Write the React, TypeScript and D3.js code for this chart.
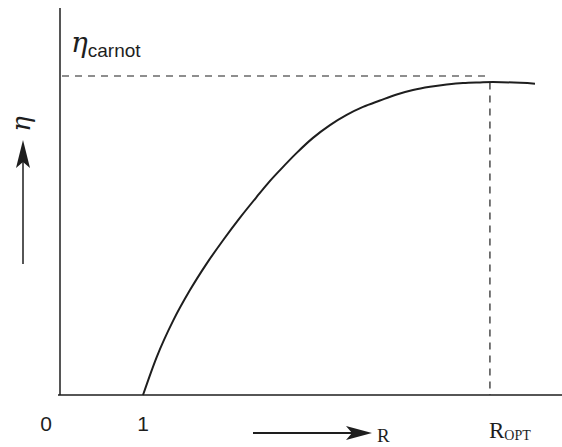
import React from "react";
import * as d3 from "d3";

// curve: R (ratio) vs efficiency as fraction of carnot
const rValues = [1, 1.165, 1.365, 1.566, 1.767, 1.967, 2.169, 2.37, 2.51, 2.651, 2.852, 3.048, 3.253, 3.454, 3.651, 3.855, 4.057, 4.253, 4.458, 4.659, 4.855, 5.06, 5.217, 5.723];
const etaValues = [0, 0.119, 0.234, 0.329, 0.412, 0.486, 0.556, 0.621, 0.665, 0.705, 0.759, 0.806, 0.846, 0.878, 0.903, 0.923, 0.942, 0.956, 0.966, 0.973, 0.978, 0.98, 0.981, 0.976];
const xTicks = [0, 1];
const etaCarnot = 1;
const rOpt = 5.18;

const W = 562;
const H = 447;

const App = () => {
  const x = d3.scaleLinear().domain([0, 1]).range([60, 143]);
  const y = d3.scaleLinear().domain([0, 1]).range([395, 76]);

  const pts = rValues.map((r, i) => [r, etaValues[i]] as [number, number]);
  const curve = d3
    .line<[number, number]>()
    .x((d) => x(d[0]))
    .y((d) => y(d[1]))
    .curve(d3.curveMonotoneX);

  const ink = "#1e1e1e";

  return (
    <svg
      width={W}
      height={H}
      style={{ position: "absolute", left: 0, top: 0, background: "#fff" }}
    >
      {/* axes */}
      <line x1={x(0)} y1={8} x2={x(0)} y2={y(0)} stroke={ink} strokeWidth={1.5} />
      <line x1={x(0) - 2} y1={y(0)} x2={W} y2={y(0)} stroke={ink} strokeWidth={1.5} />

      {/* carnot level and optimum */}
      <line
        x1={x(0) + 2}
        y1={y(etaCarnot)}
        x2={x(rOpt)}
        y2={y(etaCarnot)}
        stroke={ink}
        strokeWidth={1.2}
        strokeDasharray="7,6"
      />
      <line
        x1={x(rOpt)}
        y1={y(0.98)}
        x2={x(rOpt)}
        y2={y(0)}
        stroke={ink}
        strokeWidth={1.2}
        strokeDasharray="7,6"
      />

      <path d={curve(pts) || ""} fill="none" stroke={ink} strokeWidth={2} />

      {/* tick labels */}
      {xTicks.map((t) => (
        <text
          key={t}
          x={x(t) - (t === 0 ? 14 : 0)}
          y={431}
          textAnchor="middle"
          fontFamily="Liberation Sans, Arial, sans-serif"
          fontSize={21}
          fill={ink}
        >
          {t}
        </text>
      ))}

      {/* eta carnot label */}
      <text x={71} y={52} fontFamily="Liberation Sans, Arial, sans-serif" fill={ink}>
        <tspan fontSize={28} fontStyle="italic" fontFamily="DejaVu Serif, serif">η</tspan>
        <tspan fontSize={19} dy={5}>carnot</tspan>
      </text>

      {/* y arrow */}
      <line x1={23} y1={264} x2={23} y2={160} stroke={ink} strokeWidth={1.5} />
      <path d="M23,140 L30,168 L23,162 L16,168 Z" fill={ink} />
      <text
        transform="translate(30,124) rotate(-90)"
        textAnchor="middle"
        fontSize={26}
        fontStyle="italic"
        fontFamily="DejaVu Serif, serif"
        fill={ink}
      >
        η
      </text>

      {/* x arrow */}
      <line x1={253} y1={433} x2={355} y2={433} stroke={ink} strokeWidth={1.8} />
      <path d="M372,433 L346,426 L352,433 L346,440 Z" fill={ink} />
      <text x={377} y={442} fontFamily="Liberation Serif, Times New Roman, serif" fontSize={19} fill={ink}>
        R
      </text>

      {/* R opt */}
      <text x={489} y={438} fontFamily="Liberation Serif, Times New Roman, serif" fill={ink}>
        <tspan fontSize={23}>R</tspan>
        <tspan fontSize={14} dy={2}>OPT</tspan>
      </text>
    </svg>
  );
};

export default App;
